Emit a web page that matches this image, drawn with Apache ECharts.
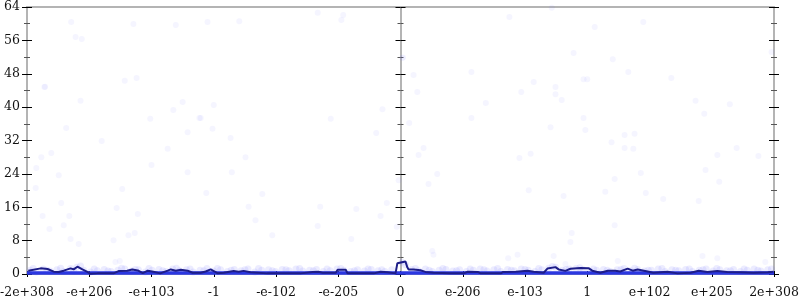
<!DOCTYPE html>
<html><head><meta charset="utf-8">
<script src="https://cdn.jsdelivr.net/npm/echarts@6/dist/echarts.min.js"></script>
<style>html,body{margin:0;padding:0;background:#fff}#c{width:800px;height:300px}</style>
</head><body><div id="c"></div>
<script>
const xTickLabels = ['-2e+308','-e+206','-e+103','-1','-e-102','-e-205','0','e-206','e-103','1','e+102','e+205','2e+308'];
const yTicks = [0,8,16,24,32,40,48,56,64];

const meanLine = [
[-5.98,0.8],[-5.78,1.35],[-5.67,1.2],[-5.57,0.55],[-5.49,0.5],[-5.41,0.8],[-5.30,1.35],[-5.25,1.1],[-5.19,1.75],[-5.11,1.1],[-5.03,0.5],[-4.98,0.05],[-4.87,0.15],[-4.61,0.15],[-4.53,0.7],[-4.39,0.8],[-4.31,1.1],[-4.22,0.85],[-4.14,0.2],[-4.06,0.8],[-3.97,0.55],[-3.86,0.15],[-3.74,0.8],[-3.69,1.1],[-3.61,0.8],[-3.53,1.0],[-3.42,0.8],[-3.34,0.3],[-3.21,0.3],[-3.13,0.6],[-3.05,1.1],[-2.94,0.2],[-2.84,0.3],[-2.68,0.7],[-2.60,0.55],[-2.52,0.75],[-2.41,0.4],[-2.14,0.15],[-1.61,0.15],[-1.41,0.5],[-1.32,0.55],[-1.25,0.3],[-1.04,0.3],[-1.01,1.0],[-0.88,1.0],[-0.85,0.15],[-0.43,0.15],[-0.32,0.55],[-0.21,0.4],[-0.08,0.15],[-0.05,2.6],[-0.02,3.0],[0.08,3.0],[0.11,1.6],[0.13,1.1],[0.21,1.1],[0.32,0.9],[0.40,0.5],[0.53,0.3],[0.80,0.15],[1.01,0.15],[1.08,0.55],[1.24,0.5],[1.29,0.15],[1.61,0.15],[1.65,0.5],[1.85,0.55],[2.04,0.8],[2.14,0.55],[2.30,0.3],[2.36,1.3],[2.49,1.65],[2.54,1.1],[2.65,0.75],[2.73,1.25],[2.89,1.45],[3.02,1.4],[3.08,0.8],[3.21,0.3],[3.33,0.8],[3.45,0.8],[3.53,0.6],[3.65,1.3],[3.73,0.8],[3.81,1.1],[3.97,0.6],[4.06,0.3],[4.29,0.55],[4.45,0.15],[4.66,0.3],[4.79,0.8],[4.93,0.5],[5.09,0.7],[5.25,0.5],[5.46,0.4],[5.67,0.3],[5.90,0.4],[5.99,0.55]
];

const medianLine = [[-6,0.25],[-3,0.25],[0,0.25],[3,0.25],[6,0.25]];

const scatterPoints = [
[-5.29,60.4],[-5.22,56.8],[-5.12,56.3],[-4.29,59.9],[-3.61,59.7],[-5.72,44.8],[-5.71,44.9],[-4.43,46.3],[-4.24,47.0],[-5.14,41.5],[-3.50,41.2],[-3.65,39.3],[-5.37,35.0],[-4.02,37.2],[-3.23,37.4],[-3.42,34.0],[-4.80,31.9],[-3.74,30.0],
[-5.77,28.0],[-5.61,29.0],[-5.85,25.4],[-5.49,23.7],[-5.86,20.6],[-4.00,26.1],[-3.42,24.4],[-4.47,20.4],[-5.45,17.0],[-5.75,13.9],[-4.56,15.8],[-4.22,14.4],[-5.32,13.9],[-5.41,11.7],[-5.64,10.8],[-4.37,9.3],[-4.27,9.8],[-5.30,8.4],[-4.61,8.1],[-5.17,7.2],[-4.51,3.1],[-4.58,2.9],
[-2.49,28.0],[-2.71,24.4],[-3.12,19.4],[-2.22,19.2],[-2.44,16.1],[-2.33,12.9],[-2.06,9.3],[-1.29,16.1],[-0.71,15.6],[-0.22,17.0],[-1.33,11.5],[-0.32,13.9],[-0.79,8.4],[-0.06,11.3],[-0.03,22.5],
[-3.10,60.4],[-2.59,60.6],[-1.33,62.6],[-0.92,62.1],[-0.95,60.9],[-3.00,40.5],[-3.21,37.4],[-3.02,34.8],[-2.73,32.6],[-1.12,37.2],[-0.29,39.5],[-0.39,33.8],
[1.75,61.6],[2.43,63.8],[3.12,59.2],[2.78,53.0],[0.03,51.8],[0.04,51.9],[0.21,47.7],[1.14,48.4],[2.14,46.0],[2.94,46.7],[3.00,46.7],[2.49,44.8],[0.27,43.6],[1.94,43.6],[2.49,43.1],[2.59,41.7],[1.37,41.0],[1.14,37.4],[2.94,37.4],[0.14,36.2],[2.41,35.2],[2.97,34.5],[0.37,30.2],
[0.29,28.5],[1.91,27.8],[2.09,28.8],[0.59,24.0],[0.45,21.6],[2.06,20.1],[2.62,18.7],[2.75,9.8],[2.73,7.7],[0.51,5.5],[0.53,4.6],[1.73,3.8],[1.88,4.6],[2.46,4.3],[2.65,2.4],
[3.90,60.4],[3.41,51.5],[3.66,48.4],[4.35,47.0],[5.96,53.2],[4.74,41.5],[5.29,40.7],[4.88,38.4],[3.60,33.3],[3.76,33.6],[3.39,31.6],[3.60,30.2],[3.74,30.0],[5.40,30.2],
[5.09,28.5],[5.75,28.3],[3.86,24.2],[3.44,22.8],[3.29,19.7],[3.94,19.4],[4.22,18.0],[4.79,17.5],[4.90,24.9],[5.12,22.1],[3.44,11.7],[4.85,4.3],[5.09,3.8],[3.49,3.1],[5.86,2.9]
];

const lowPoints = [
[-5.95,0.9],[-5.85,0.5],[-5.74,1.2],[-5.63,0.7],[-5.52,1.0],[-5.41,0.6],[-5.30,1.3],[-5.20,1.6],[-5.09,0.9],[-4.98,0.5],[-4.87,0.8],[-4.76,1.1],[-4.65,0.6],[-4.54,0.9],[-4.43,1.2],[-4.32,0.7],[-4.21,1.0],[-4.10,0.5],[-3.99,0.9],[-3.88,1.1],[-3.77,0.6],[-3.66,1.2],[-3.55,0.8],[-3.44,1.0],[-3.33,0.5],[-3.22,0.9],[-3.11,1.3],[-3.00,0.7],[-2.89,1.0],[-2.78,0.6],[-2.67,1.1],[-2.56,0.8],[-2.45,1.2],[-2.34,0.5],[-2.23,0.9],[-2.12,1.0],[-2.01,0.6],[-1.90,1.1],[-1.79,0.8],[-1.68,1.2],[-1.57,0.7],[-1.46,0.9],[-1.35,1.1],[-1.24,0.6],[-1.13,0.8],[-1.02,1.2],[-0.91,0.9],[-0.80,0.6],[-0.69,1.0],[-0.58,0.7],[-0.47,1.1],[-0.36,0.8],[-0.25,0.6],[-0.14,1.0],[0.02,2.8],[0.08,2.2],
[0.18,1.1],[0.29,0.8],[0.40,1.2],[0.51,0.6],[0.62,0.9],[0.73,1.1],[0.84,0.7],[0.95,1.0],[1.06,0.6],[1.17,0.9],[1.28,1.2],[1.39,0.7],[1.50,1.0],[1.61,0.6],[1.72,1.1],[1.83,0.8],[1.94,1.2],[2.05,0.9],[2.16,0.6],[2.27,1.0],[2.38,1.4],[2.49,1.6],[2.60,0.9],[2.71,1.2],[2.82,1.3],[2.93,1.0],[3.04,0.7],[3.15,0.9],[3.26,1.1],[3.37,0.6],[3.48,1.0],[3.59,1.3],[3.70,0.8],[3.81,1.1],[3.92,0.7],[4.03,0.9],[4.14,1.2],[4.25,0.6],[4.36,1.0],[4.47,0.8],[4.58,1.1],[4.69,0.6],[4.80,0.9],[4.91,1.2],[5.02,0.7],[5.13,1.0],[5.24,0.8],[5.35,1.1],[5.46,0.6],[5.57,0.9],[5.68,1.2],[5.79,0.7],[5.90,1.0],
[-5.90,1.3],[-5.68,0.9],[-5.46,1.4],[-5.25,0.8],[-5.14,1.9],[-4.92,1.2],[-4.70,0.7],[-4.48,1.4],[-4.26,1.1],[-4.04,1.3],[-3.82,0.8],[-3.60,1.4],[-3.38,1.2],[-3.16,0.8],[-2.94,1.3],[-2.72,0.9],[-2.50,1.0],[-2.28,1.3],[-2.06,0.8],[-1.84,1.0],[-1.62,1.3],[-1.40,0.8],[-1.18,1.2],[-0.96,1.3],[-0.74,0.8],[-0.52,1.2],[-0.30,1.0],
[0.24,1.3],[0.46,0.9],[0.68,1.3],[0.90,0.8],[1.12,1.2],[1.34,1.0],[1.56,1.3],[1.78,0.9],[2.00,1.1],[2.22,1.3],[2.44,1.8],[2.66,1.1],[2.88,1.5],[3.10,1.2],[3.32,0.9],[3.54,1.1],[3.76,1.4],[3.98,0.9],[4.20,1.3],[4.42,0.9],[4.64,1.2],[4.86,1.0],[5.08,1.3],[5.30,0.8],[5.52,1.2],[5.74,0.9],[5.96,1.2]
];

const FONT = 'DejaVu Serif';
const axisGray = '#b4b4b4';

function yAx(extra) {
  return Object.assign({
    type: 'value', min: 0, max: 64, interval: 8,
    splitLine: { show: false },
    axisLine: { show: false, onZero: false },
    axisLabel: { show: false },
    axisTick: { show: true, inside: false, length: 5, lineStyle: { color: '#000', width: 1 } },
    minorTick: { show: true, splitNumber: 2, length: 3, lineStyle: { color: '#555', width: 1 } }
  }, extra);
}

const chart = echarts.init(document.getElementById('c'), null, { renderer: 'canvas' });
chart.setOption({
  animation: false,
  grid: { left: 27, right: 26, top: 7, bottom: 26, containLabel: false, outerBoundsMode: 'none' },
  xAxis: [
    {
      type: 'value', min: -6, max: 6, interval: 1, position: 'bottom',
      splitLine: { show: false },
      axisLine: { show: true, onZero: false, lineStyle: { color: axisGray, width: 2 } },
      axisTick: { show: true, inside: false, length: 3, lineStyle: { color: '#000' } },
      axisLabel: {
        show: true, margin: 12, fontFamily: FONT, fontSize: 12.5, color: '#111',
        showMinLabel: true, showMaxLabel: true,
        formatter: v => xTickLabels[Math.round(v) + 6]
      }
    },
    {
      type: 'value', min: -6, max: 6, interval: 1, position: 'bottom',
      splitLine: { show: false },
      axisLine: { show: false, onZero: false },
      axisTick: { show: true, inside: true, length: 3, lineStyle: { color: '#000' } },
      axisLabel: { show: false }
    },
    {
      type: 'value', min: -6, max: 6, interval: 1, position: 'top',
      splitLine: { show: false },
      axisLine: { show: true, onZero: false, lineStyle: { color: axisGray, width: 2 } },
      axisTick: { show: false }, axisLabel: { show: false }
    }
  ],
  yAxis: [
    yAx({ position: 'left',
      axisLine: { show: true, onZero: false, lineStyle: { color: axisGray, width: 2 } },
      axisLabel: { show: true, margin: 7, fontFamily: FONT, fontSize: 12.5, color: '#111',
        showMinLabel: true, showMaxLabel: true, formatter: v => String(yTicks[Math.round(v / 8)]) } }),
    yAx({ position: 'left', axisTick: { show: true, inside: true, length: 5, lineStyle: { color: '#000' } },
      minorTick: { show: true, splitNumber: 2, length: 3, lineStyle: { color: '#555' } } }),
    yAx({ position: 'left', axisLine: { show: true, onZero: true, lineStyle: { color: axisGray, width: 2 } } }),
    yAx({ position: 'left', axisLine: { show: false, onZero: true },
      axisTick: { show: true, inside: true, length: 5, lineStyle: { color: '#000' } },
      minorTick: { show: true, splitNumber: 2, length: 3, lineStyle: { color: '#555' } } }),
    yAx({ position: 'right', axisLine: { show: true, onZero: false, lineStyle: { color: axisGray, width: 2 } } }),
    yAx({ position: 'right', axisTick: { show: true, inside: true, length: 5, lineStyle: { color: '#000' } },
      minorTick: { show: true, splitNumber: 2, length: 3, lineStyle: { color: '#555' } } })
  ],
  series: [
    {
      type: 'scatter', name: 'samples', data: scatterPoints, symbol: 'circle', symbolSize: 6,
      itemStyle: { color: 'rgba(110,110,255,0.09)' }, z: 2, silent: true
    },
    {
      type: 'scatter', name: 'band', data: lowPoints, symbol: 'circle', symbolSize: 7,
      itemStyle: { color: 'rgba(110,110,255,0.16)' }, z: 2, silent: true
    },
    {
      type: 'line', name: 'median', data: medianLine, symbol: 'none',
      lineStyle: { color: '#2b37e0', width: 3.5 }, z: 3, silent: true
    },
    {
      type: 'line', name: 'mean', data: meanLine, symbol: 'none',
      lineStyle: { color: '#1d1d88', width: 2 }, z: 4, silent: true
    }
  ]
});
</script></body></html>
